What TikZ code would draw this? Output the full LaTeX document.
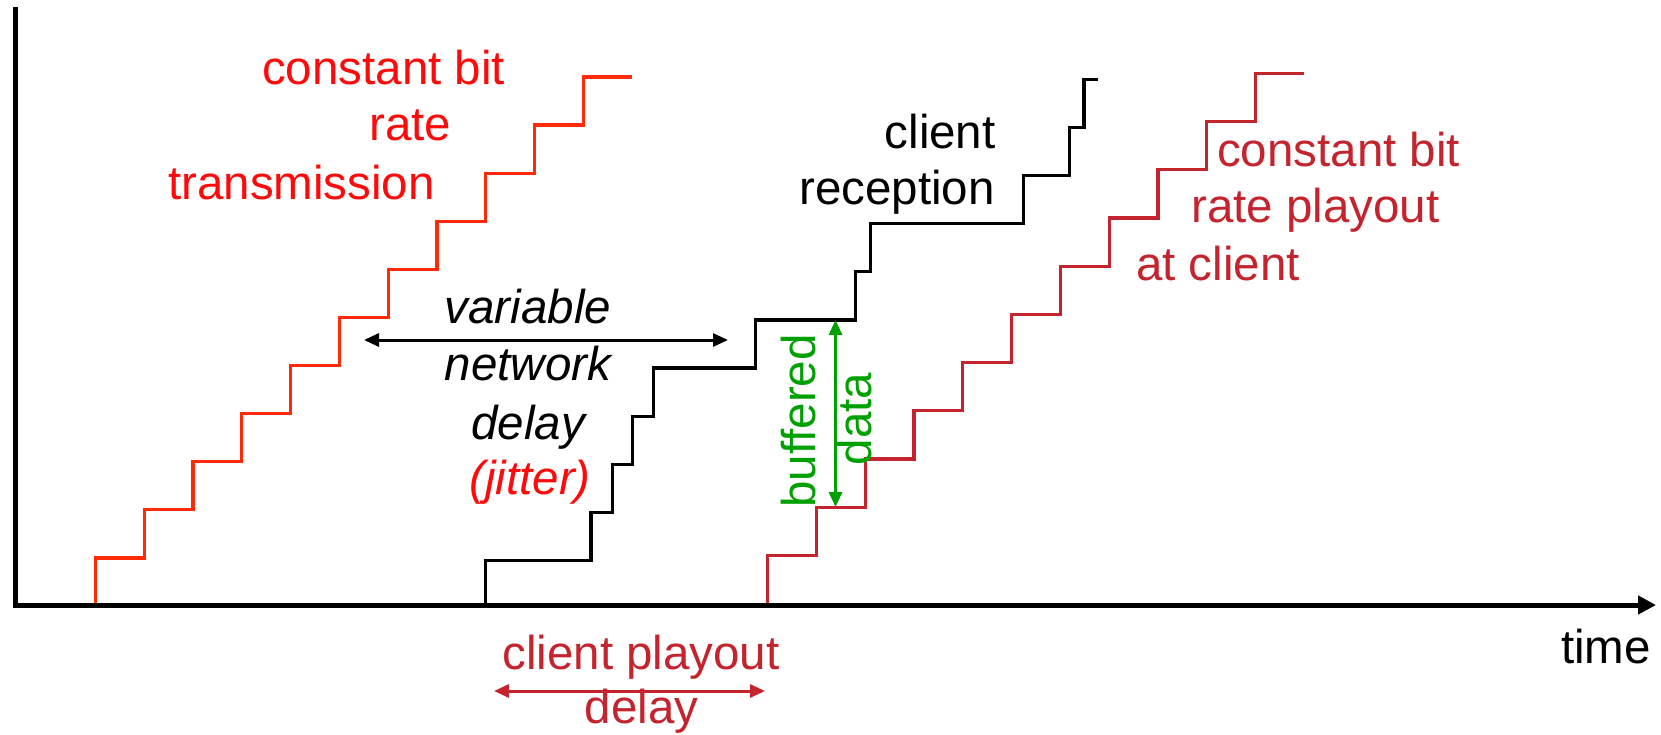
\documentclass[tikz,border=0pt]{standalone}
\usepackage{fontspec}
\setmainfont{Liberation Sans}
\usetikzlibrary{arrows.meta}
\definecolor{txred}{RGB}{255,42,8}
\definecolor{txtred}{RGB}{255,10,10}
\definecolor{playred}{RGB}{196,36,46}
\definecolor{bufgreen}{RGB}{0,160,0}
\begin{document}
\begin{tikzpicture}[x=1pt,y=-1pt,
  lbl/.style={font=\fontsize{47.5}{57}\selectfont, inner sep=0pt},
  ilbl/.style={inner sep=0pt, font=\fontsize{47.5}{57}\selectfont\itshape},
  stair/.style={line width=3.2pt, line join=miter},
  axisline/.style={line width=5pt, line join=miter},
  dbl/.style={line width=3pt, {Triangle[length=15pt,width=13pt]}-{Triangle[length=15pt,width=13pt]}}
]
\useasboundingbox (0,0) rectangle (1661,734);
\fill[white] (0,0) rectangle (1661,734);

% staircases
\draw[stair, txred] (95.4,606) \foreach \i in {1,...,11} { -- ++(0,-48.1) -- ++(48.8,0) };
\draw[stair, black] (485.5,606) -- (485.5,560.4) -- (590.9,560.4) -- (590.9,512.3) -- (612.6,512.3)
  -- (612.6,464.2) -- (632.1,464.2) -- (632.1,416.1) -- (653.4,416.1) -- (653.4,368) -- (755.3,368)
  -- (755.3,319.9) -- (855.1,319.9) -- (855.1,271.8) -- (870.7,271.8) -- (870.7,223.7) -- (1023.3,223.7)
  -- (1023.3,175.6) -- (1069.7,175.6) -- (1069.7,127.5) -- (1084,127.5) -- (1084,79.4) -- (1098.4,79.4);
\draw[stair, playred] (767.6,606) -- (767.6,555.3) -- ++(48.8,0) \foreach \i in {1,...,10} { -- ++(0,-48.2) -- ++(48.8,0) };

% axes
\coordinate (ytop) at (15.5,7);
\coordinate (orig) at (15.5,605);
\coordinate (xend) at (1656,605);
\draw[axisline, -{Triangle[length=18pt,width=18pt]}] (ytop) -- (orig) -- (xend);
\node[lbl, anchor=base west] (time) at (1561,663) {time};

% transmission label
\node[lbl, text=txtred, anchor=base west] (cb1) at (262,84) {constant bit};
\node[lbl, text=txtred, anchor=base west] (rate1) at (369,140) {rate};
\node[lbl, text=txtred, anchor=base west] (trans) at (168,199) {transmission};

% variable network delay
\node[ilbl, anchor=base] (var) at (528,323) {variable};
\node[ilbl, anchor=base] (netw) at (528,380) {network};
\node[ilbl, anchor=base] (dly) at (528,439) {delay};
\node[ilbl, text=txtred, anchor=base] (jit) at (530,494) {(jitter)};
\coordinate (vl) at (364,340);
\coordinate (vr) at (728,340);
\draw[dbl, black] (vl) -- (vr);

% client reception
\node[lbl, anchor=base west] (cl) at (884.5,148.5) {client};
\node[lbl, anchor=base west] (rec) at (799,204) {reception};

% playout label
\node[lbl, text=playred, anchor=base west] (cb2) at (1217,166) {constant bit};
\node[lbl, text=playred, anchor=base west] (rp) at (1191,222) {rate playout};
\node[lbl, text=playred, anchor=base west] (atc) at (1136,280) {at client};

% buffered data
\node[lbl, text=bufgreen, rotate=90, anchor=base] (buf) at (815,421) {buffered};
\node[lbl, text=bufgreen, rotate=90, anchor=base] (dat) at (871.5,419) {data};
\coordinate (bt) at (835.5,320);
\coordinate (bb) at (835.5,507);
\draw[dbl, bufgreen] (bt) -- (bb);

% client playout delay
\node[lbl, text=playred, anchor=base] (cpd) at (641,669) {client playout};
\node[lbl, text=playred, anchor=base] (cpd2) at (641.5,723.5) {delay};
\coordinate (pl) at (494,691);
\coordinate (pr) at (765,691);
\draw[dbl, playred] (pl) -- (pr);
\end{tikzpicture}
\end{document}
